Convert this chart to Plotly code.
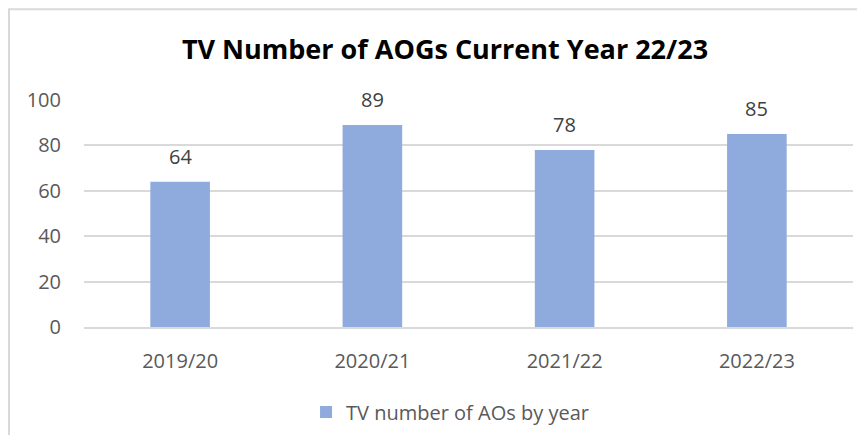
import plotly.graph_objects as go

years = ["2019/20", "2020/21", "2021/22", "2022/23"]
aos = [64, 89, 78, 85]
series_name = "TV number of AOs by year"
title = "TV Number of AOGs Current Year 22/23"

BAR = "#8FAADC"
GRID = "#D9D9D9"
TXT = "#595959"
FONT = "'Open Sans', Lato, Arial, sans-serif"

# page body has an 8px margin, so the figure is sized to fit inside it
W, H = 849, 427

fig = go.Figure(go.Bar(
    x=years, y=aos, name=series_name,
    marker=dict(color=BAR, line=dict(width=0)),
    width=0.31,
))

# value labels above the bars
for yr, v in zip(years, aos):
    fig.add_annotation(x=yr, y=v, text=str(v), showarrow=False,
                       yanchor="bottom", yshift=10,
                       font=dict(size=20, color="#404040", family=FONT))

fig.update_layout(
    width=W, height=H,
    paper_bgcolor="white", plot_bgcolor="white",
    margin=dict(l=76, r=4, t=92, b=108),
    font=dict(family=FONT, size=20, color=TXT),
    title=dict(text="<b>" + title + "</b>", x=0.5147, xanchor="center",
               y=0.9016, yanchor="middle",
               font=dict(size=27, color="#000000", family=FONT)),
    showlegend=True,
    legend=dict(orientation="h", x=0.476, xanchor="center", y=-0.374, yanchor="middle",
                font=dict(size=20, color=TXT, family=FONT)),
)

fig.update_xaxes(showgrid=False, showline=True, linecolor=GRID, linewidth=1.5,
                 ticks="", tickfont=dict(size=20, color=TXT), ticklabelstandoff=15)
fig.update_yaxes(range=[0, 100], dtick=20, showgrid=True, gridcolor=GRID, gridwidth=1.5,
                 zeroline=False, showline=False, ticks="",
                 tickfont=dict(size=20, color=TXT), ticklabelstandoff=22)

# chart area border (left and top edges visible, the rest runs off the page)
fig.add_shape(type="rect", xref="paper", yref="paper",
              x0=-0.0975, x1=1.03, y0=-0.55, y1=1.4,
              line=dict(color=GRID, width=2), layer="above")

fig.write_html("out.html")
